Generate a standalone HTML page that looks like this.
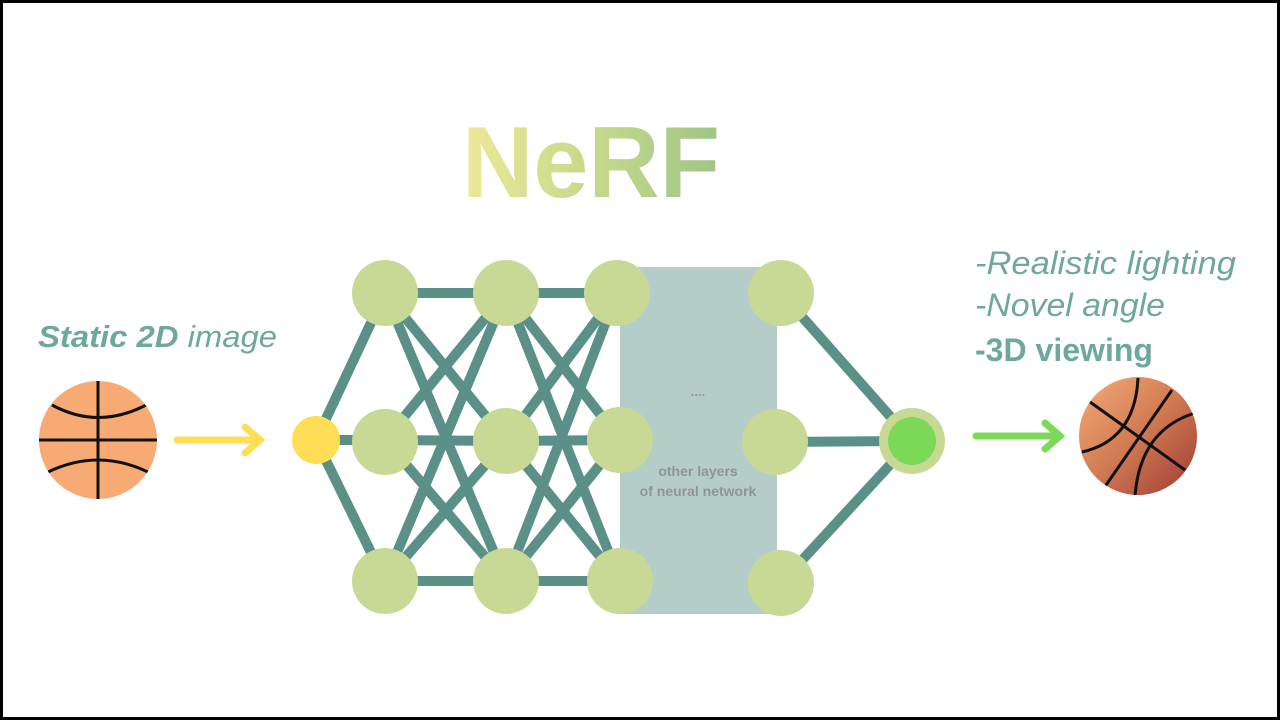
<!DOCTYPE html>
<html><head><style>
html,body{margin:0;padding:0;background:#fff;}
svg{display:block;}
</style></head><body>
<svg width="1280" height="720" xmlns="http://www.w3.org/2000/svg">
<defs>
<linearGradient id="ng" x1="0" x2="1" y1="0" y2="0">
<stop offset="0" stop-color="#ece996"/><stop offset="0.5" stop-color="#c6d98c"/><stop offset="1" stop-color="#9fc585"/>
</linearGradient>
<linearGradient id="bg2" x1="0" y1="0" x2="1" y2="1">
<stop offset="0" stop-color="#f6ac78"/><stop offset="0.5" stop-color="#d07a52"/><stop offset="1" stop-color="#9e3a34"/>
</linearGradient>
<clipPath id="c1"><circle cx="98" cy="440" r="59"/></clipPath>
<clipPath id="c2"><circle cx="1138" cy="436" r="59"/></clipPath>
</defs>
<rect x="1.5" y="1.5" width="1277" height="717" fill="#fff" stroke="#000" stroke-width="3"/>
<text x="591" y="197" text-anchor="middle" font-family="Liberation Sans, sans-serif" font-weight="bold" font-size="101" fill="url(#ng)" textLength="258" lengthAdjust="spacingAndGlyphs">NeRF</text>
<rect x="620" y="267" width="157" height="347" fill="#b4cdc9"/>
<text x="698" y="396" text-anchor="middle" font-family="Liberation Sans, sans-serif" font-weight="bold" font-size="13" fill="#999">....</text>
<text x="698" y="476" text-anchor="middle" font-family="Liberation Sans, sans-serif" font-weight="bold" font-size="14" fill="#8f9594">other layers</text>
<text x="698" y="496" text-anchor="middle" font-family="Liberation Sans, sans-serif" font-weight="bold" font-size="14" fill="#8f9594">of neural network</text>
<g stroke="#5a9087" stroke-width="10" stroke-linecap="butt">
<line x1="316" y1="440" x2="385" y2="293"/><line x1="316" y1="440" x2="385" y2="440"/><line x1="316" y1="440" x2="385" y2="581"/>
<line x1="385" y1="293" x2="506" y2="293"/><line x1="385" y1="293" x2="506" y2="441"/><line x1="385" y1="293" x2="506" y2="581"/>
<line x1="385" y1="440" x2="506" y2="293"/><line x1="385" y1="440" x2="506" y2="441"/><line x1="385" y1="440" x2="506" y2="581"/>
<line x1="385" y1="581" x2="506" y2="293"/><line x1="385" y1="581" x2="506" y2="441"/><line x1="385" y1="581" x2="506" y2="581"/>
<line x1="506" y1="293" x2="617" y2="293"/><line x1="506" y1="293" x2="620" y2="440"/><line x1="506" y1="293" x2="620" y2="581"/>
<line x1="506" y1="441" x2="617" y2="293"/><line x1="506" y1="441" x2="620" y2="440"/><line x1="506" y1="441" x2="620" y2="581"/>
<line x1="506" y1="581" x2="617" y2="293"/><line x1="506" y1="581" x2="620" y2="440"/><line x1="506" y1="581" x2="620" y2="581"/>
<line x1="781" y1="293" x2="912" y2="441"/><line x1="775" y1="442" x2="912" y2="441"/><line x1="781" y1="583" x2="912" y2="441"/>
</g>
<g fill="#c8d995">
<circle cx="385" cy="293" r="33"/><circle cx="385" cy="442" r="33"/><circle cx="385" cy="581" r="33"/>
<circle cx="506" cy="293" r="33"/><circle cx="506" cy="441" r="33"/><circle cx="506" cy="581" r="33"/>
<circle cx="617" cy="293" r="33"/><circle cx="620" cy="440" r="33"/><circle cx="620" cy="581" r="33"/>
<circle cx="781" cy="293" r="33"/><circle cx="775" cy="442" r="33"/><circle cx="781" cy="583" r="33"/>
<circle cx="912" cy="441" r="33"/>
</g>
<circle cx="912" cy="441" r="24" fill="#7cd957"/>
<circle cx="316" cy="440" r="24" fill="#ffdd55"/>
<circle cx="98" cy="440" r="59" fill="#f8aa74"/>
<g clip-path="url(#c1)" stroke="#111" stroke-width="3" fill="none">
<line x1="98" y1="380" x2="98" y2="500"/><line x1="38" y1="440" x2="158" y2="440"/>
<path d="M52 405 Q98 430 146 405"/><path d="M48 472 Q98 448 148 472"/>
</g>
<g stroke="#ffdd55" stroke-width="7" stroke-linecap="round" fill="none">
<line x1="177" y1="440" x2="260" y2="440"/><polyline points="245,427 260,440 245,453"/>
</g>
<g stroke="#7cd957" stroke-width="7" stroke-linecap="round" fill="none">
<line x1="976" y1="436" x2="1060" y2="436"/><polyline points="1045,423 1060,436 1045,449"/>
</g>
<circle cx="1138" cy="436" r="59" fill="url(#bg2)"/>
<g clip-path="url(#c2)" stroke="#111" stroke-width="3" fill="none">
<line x1="1090" y1="402" x2="1185" y2="470"/>
<line x1="1172" y1="390" x2="1104" y2="488"/>
<path d="M1138 378 Q1135 440 1082 452"/>
<path d="M1195 413 Q1140 430 1135 496"/>
</g>
<text x="38" y="347" font-family="Liberation Sans, sans-serif" font-style="italic" font-size="31" fill="#6ea89c" textLength="239" lengthAdjust="spacingAndGlyphs"><tspan font-weight="bold">Static 2D</tspan> image</text>
<g font-family="Liberation Sans, sans-serif" font-size="32" fill="#6ea89c" font-style="italic">
<text x="975" y="274" textLength="261" lengthAdjust="spacingAndGlyphs">-Realistic lighting</text>
<text x="975" y="316" textLength="190" lengthAdjust="spacingAndGlyphs">-Novel angle</text>
<text x="975" y="361" font-style="normal" font-weight="bold" textLength="178" lengthAdjust="spacingAndGlyphs">-3D viewing</text>
</g>
</svg>
</body></html>
